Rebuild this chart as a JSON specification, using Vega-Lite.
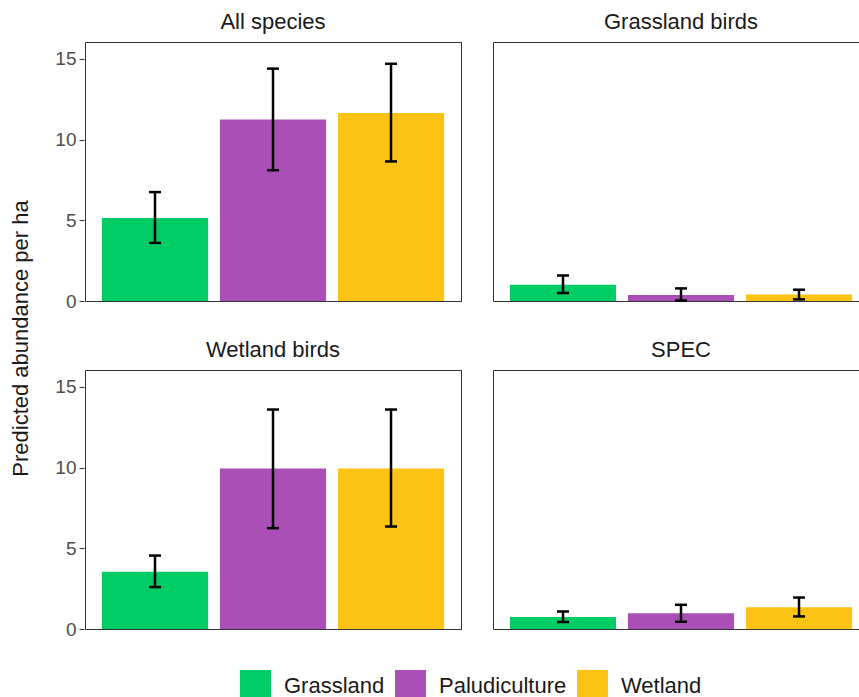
{
  "$schema": "https://vega.github.io/schema/vega-lite/v6.json",
  "padding": {"left": 9, "top": 11, "right": 0, "bottom": 0},
  "bounds": "flush",
  "data": {"values": [
    {"group": "All species", "row": 1, "habitat": "Grassland", "abundance": 5.15, "lo": 3.6, "hi": 6.75},
    {"group": "All species", "row": 1, "habitat": "Paludiculture", "abundance": 11.25, "lo": 8.1, "hi": 14.4},
    {"group": "All species", "row": 1, "habitat": "Wetland", "abundance": 11.65, "lo": 8.65, "hi": 14.7},
    {"group": "Grassland birds", "row": 1, "habitat": "Grassland", "abundance": 1.0, "lo": 0.5, "hi": 1.58},
    {"group": "Grassland birds", "row": 1, "habitat": "Paludiculture", "abundance": 0.37, "lo": 0.03, "hi": 0.78},
    {"group": "Grassland birds", "row": 1, "habitat": "Wetland", "abundance": 0.4, "lo": 0.1, "hi": 0.7},
    {"group": "Wetland birds", "row": 2, "habitat": "Grassland", "abundance": 3.55, "lo": 2.6, "hi": 4.55},
    {"group": "Wetland birds", "row": 2, "habitat": "Paludiculture", "abundance": 9.95, "lo": 6.25, "hi": 13.6},
    {"group": "Wetland birds", "row": 2, "habitat": "Wetland", "abundance": 9.95, "lo": 6.35, "hi": 13.6},
    {"group": "SPEC", "row": 2, "habitat": "Grassland", "abundance": 0.75, "lo": 0.43, "hi": 1.08},
    {"group": "SPEC", "row": 2, "habitat": "Paludiculture", "abundance": 0.98, "lo": 0.45, "hi": 1.5},
    {"group": "SPEC", "row": 2, "habitat": "Wetland", "abundance": 1.35, "lo": 0.78, "hi": 1.95}
  ]},
  "vconcat": [
    {
      "transform": [{"filter": "datum.row == 1"}],
      "facet": {"column": {"field": "group", "type": "nominal", "sort": ["All species", "Grassland birds"], "header": {"title": null}}},
      "spacing": 30,
      "spec": {
        "width": 376,
        "height": 259,
        "encoding": {
          "x": {"field": "habitat", "type": "nominal", "axis": null, "scale": {"paddingInner": 0.1, "paddingOuter": 0.143}}
        },
        "layer": [
          {
            "mark": {"type": "bar"},
            "encoding": {
              "y": {"field": "abundance", "type": "quantitative", "scale": {"domain": [0, 16.05], "nice": false},
                    "axis": {"title": "Predicted abundance per ha", "titleY": 296, "values": [0, 5, 10, 15]}},
              "color": {"field": "habitat", "type": "nominal",
                        "scale": {"domain": ["Grassland", "Paludiculture", "Wetland"], "range": ["#00CC66", "#A94FB6", "#FDC314"]},
                        "legend": {"title": null, "orient": "none", "legendX": 155, "legendY": 628, "direction": "horizontal", "symbolType": "square", "symbolSize": 961, "symbolStrokeWidth": 0, "symbolOpacity": 1, "labelFontSize": 22, "labelFont": "Liberation Sans", "labelColor": "#1a1a1a", "labelOffset": 13, "columnPadding": 10}}
            }
          },
          {"mark": {"type": "rule", "color": "black", "strokeWidth": 2.5},
           "encoding": {"y": {"field": "lo", "type": "quantitative"}, "y2": {"field": "hi"}}},
          {"mark": {"type": "tick", "color": "black", "thickness": 2.5, "size": 12, "opacity": 1},
           "encoding": {"y": {"field": "lo", "type": "quantitative"}}},
          {"mark": {"type": "tick", "color": "black", "thickness": 2.5, "size": 12, "opacity": 1},
           "encoding": {"y": {"field": "hi", "type": "quantitative"}}}
        ]
      }
    },
    {
      "transform": [{"filter": "datum.row == 2"}],
      "facet": {"column": {"field": "group", "type": "nominal", "sort": ["Wetland birds", "SPEC"], "header": {"title": null}}},
      "spacing": 30,
      "spec": {
        "width": 376,
        "height": 259,
        "encoding": {
          "x": {"field": "habitat", "type": "nominal", "axis": null, "scale": {"paddingInner": 0.1, "paddingOuter": 0.143}}
        },
        "layer": [
          {
            "mark": {"type": "bar"},
            "encoding": {
              "y": {"field": "abundance", "type": "quantitative", "scale": {"domain": [0, 16.05], "nice": false},
                    "axis": {"title": null, "values": [0, 5, 10, 15]}},
              "color": {"field": "habitat", "type": "nominal",
                        "scale": {"domain": ["Grassland", "Paludiculture", "Wetland"], "range": ["#00CC66", "#A94FB6", "#FDC314"]},
                        "legend": {"title": null, "orient": "none", "legendX": 155, "legendY": 628, "direction": "horizontal", "symbolType": "square", "symbolSize": 961, "symbolStrokeWidth": 0, "symbolOpacity": 1, "labelFontSize": 22, "labelFont": "Liberation Sans", "labelColor": "#1a1a1a", "labelOffset": 13, "columnPadding": 10}}
            }
          },
          {"mark": {"type": "rule", "color": "black", "strokeWidth": 2.5},
           "encoding": {"y": {"field": "lo", "type": "quantitative"}, "y2": {"field": "hi"}}},
          {"mark": {"type": "tick", "color": "black", "thickness": 2.5, "size": 12, "opacity": 1},
           "encoding": {"y": {"field": "lo", "type": "quantitative"}}},
          {"mark": {"type": "tick", "color": "black", "thickness": 2.5, "size": 12, "opacity": 1},
           "encoding": {"y": {"field": "hi", "type": "quantitative"}}}
        ]
      }
    }
  ],
  "spacing": 328,
  "config": {
    "view": {"stroke": "#333333", "strokeWidth": 1},
    "font": "Liberation Sans",
    "header": {"labelFontSize": 22, "labelFont": "Liberation Sans", "labelColor": "#1a1a1a", "labelPadding": 7},
    "axis": {"grid": false, "domain": false, "tickColor": "#333333", "tickSize": 5, "labelColor": "#4d4d4d", "labelFontSize": 19, "labelFont": "Liberation Sans", "labelPadding": 3, "titleFontSize": 22, "titleFont": "Liberation Sans", "titleFontWeight": "normal", "titleColor": "#1a1a1a", "titlePadding": 22}
  }
}
